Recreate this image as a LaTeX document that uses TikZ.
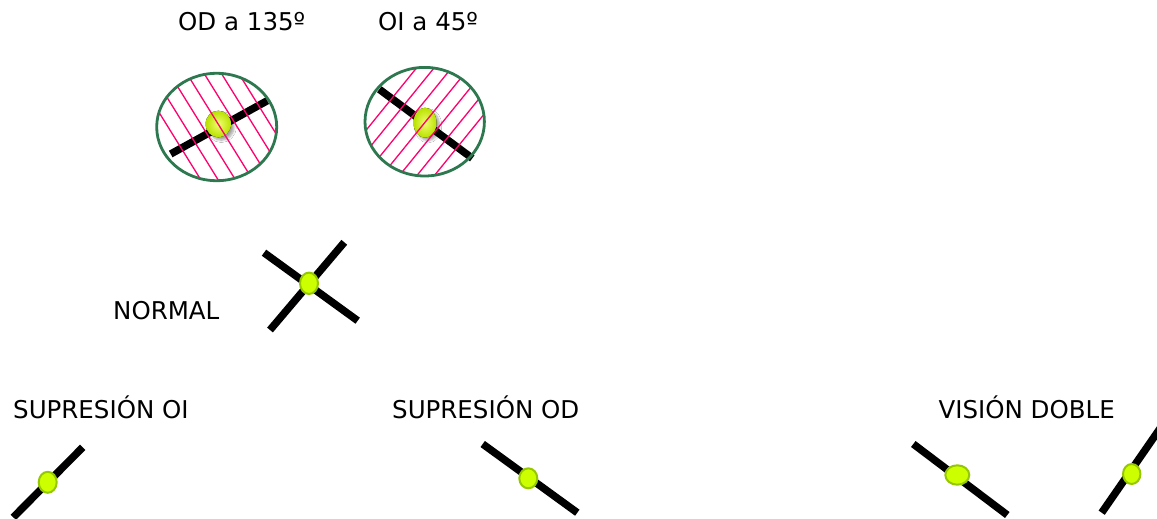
\documentclass[tikz,border=0pt]{standalone}
\usepackage{fontspec}
\setmainfont{DejaVu Sans}
\usetikzlibrary{shadows.blur}

\definecolor{rimgreen}{RGB}{46,120,80}
\definecolor{hatchpink}{RGB}{255,0,110}
\definecolor{dotfill}{RGB}{204,255,0}
\definecolor{dotrim}{RGB}{150,200,0}
\definecolor{ballin}{RGB}{240,255,110}
\definecolor{ballout}{RGB}{185,225,0}

\tikzset{
  rod/.style={line width=7.5pt, black, line cap=butt},
  flatdot/.style={fill=dotfill, draw=dotrim, line width=2pt},
  balldot/.style={inner color=ballin, outer color=ballout,
    blur shadow={shadow xshift=3pt, shadow yshift=-3pt, shadow blur steps=6, shadow opacity=35}},
  field/.style={draw=rimgreen, line width=2.8pt},
  hatchline/.style={hatchpink, line width=1.3pt},
  label/.style={font=\fontsize{24.5}{28}\selectfont, inner sep=0pt}
}

\begin{document}
\begin{tikzpicture}[x=1pt, y=-1pt]
\useasboundingbox (0,0) rectangle (1157,519);
\clip (0,0) rectangle (1157,519);

% --- headings
\node[label, anchor=base west] (tOD) at (178,31) {OD a 135º};
\node[label, anchor=base west] (tOI) at (378,31) {OI a 45º};

% --- right eye field (OD a 135º)
\fill[white] (216.7,127) ellipse [x radius=60, y radius=53.7];
\draw[rod] (170.7,154) -- (267.3,100.7);
\fill[balldot] (218.3,124) ellipse [x radius=12.7, y radius=13.3];
\begin{scope}
  \clip (216.7,127) ellipse [x radius=60.5, y radius=54.5];
  \foreach \k in {0,...,6}{
    \draw[hatchline] ({171+17.3*\k-0.62*70},61.7) -- ({171+17.3*\k+0.62*70},201.7);
  }
\end{scope}
\draw[field] (216.7,127) ellipse [x radius=60, y radius=53.7];

% --- left eye field (OI a 45º)
\fill[white] (424.7,121.7) ellipse [x radius=59.7, y radius=54.3];
\draw[rod] (379.3,89.3) -- (472.3,158.3);
\fill[balldot] (425,122.7) ellipse [x radius=11.5, y radius=15];
\begin{scope}
  \clip (424.7,121.7) ellipse [x radius=60.2, y radius=55];
  \foreach \k in {0,...,6}{
    \draw[hatchline] ({373+17.5*\k+0.81*70},51.7) -- ({373+17.5*\k-0.81*70},191.7);
  }
\end{scope}
\draw[field] (424.7,121.7) ellipse [x radius=59.7, y radius=54.3];

% --- normal fusion
\node[label, anchor=base west] (tN) at (113,319.3) {NORMAL};
\draw[rod] (264,252.7) -- (357.7,320.7);
\draw[rod] (344.3,242.3) -- (270,330);
\draw[flatdot] (309,283.3) ellipse [x radius=9, y radius=10.7];

% --- suppression of the left eye
\node[label, anchor=base west] (tSOI) at (13,418) {SUPRESIÓN OI};
\draw[rod] (13.3,517.3) -- (82.7,447.3);
\draw[flatdot] (47.7,482.3) ellipse [x radius=9, y radius=10.5];

% --- suppression of the right eye
\node[label, anchor=base west] (tSOD) at (392,418) {SUPRESIÓN OD};
\draw[rod] (482.7,444) -- (577.3,512.7);
\draw[flatdot] (528.3,478.3) ellipse [x radius=9, y radius=10];

% --- diplopia
\node[label, anchor=base east] (tVD) at (1115,418) {VISIÓN DOBLE};
\draw[rod] (913.3,444) -- (1007.3,515);
\draw[flatdot] (957.3,475) ellipse [x radius=12, y radius=9.7];
\draw[rod] (1101.7,512.7) -- (1160,428.5);
\draw[flatdot] (1131.7,474) ellipse [x radius=8.7, y radius=10];
\end{tikzpicture}
\end{document}
